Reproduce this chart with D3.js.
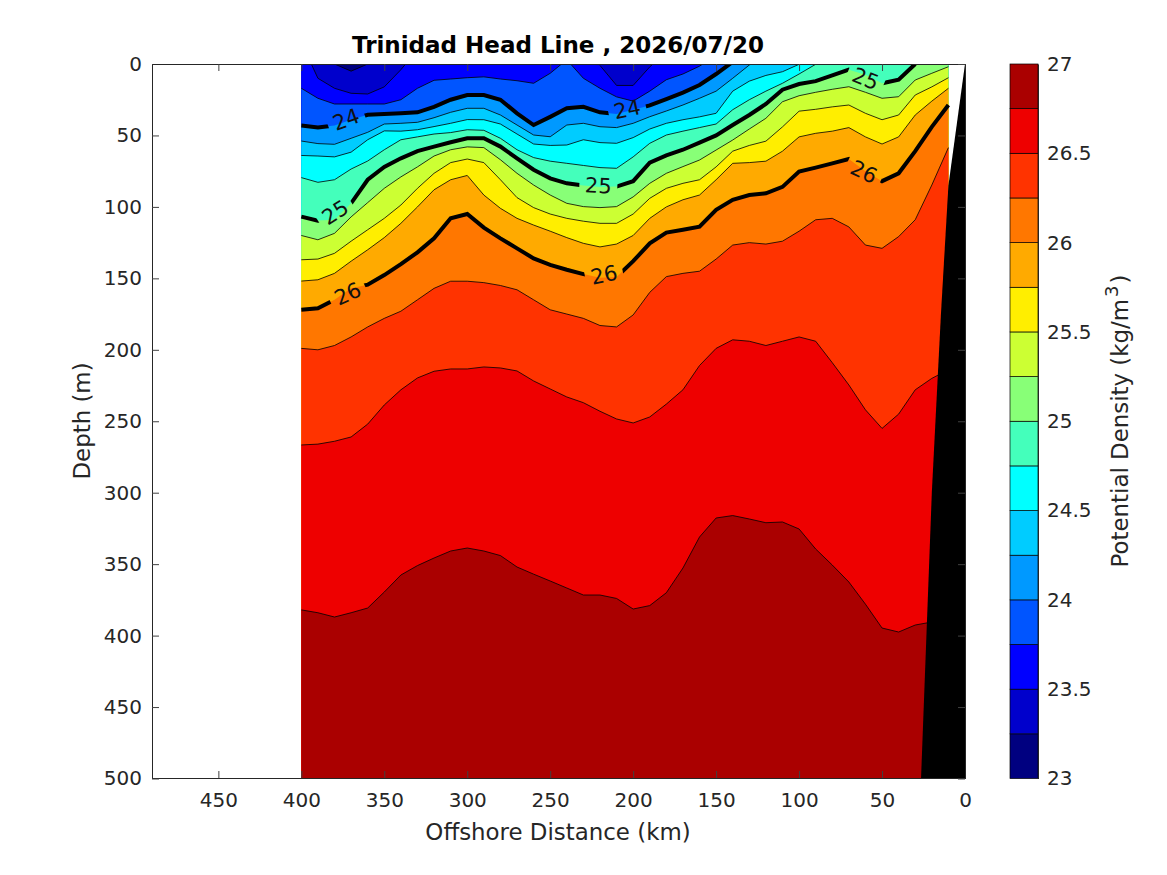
<!DOCTYPE html>
<html>
<head>
<meta charset="utf-8">
<script src="https://cdn.jsdelivr.net/npm/d3@7"></script>
<style>
  body { margin: 0; background: #fff; }
  text { font-family: "DejaVu Sans", sans-serif; fill: #262626; }
</style>
</head>
<body>
<div id="my_dataviz"></div>
<script>
// Station distances (km offshore), shared by every contour
const distances = [400,390,380,370,360,350,340,330,320,310,
                   300,290,280,270,260,250,240,230,220,210,
                   200,190,180,170,160,150,140,130,120,110,
                   100,90,80,70,60,50,40,30,20,10];

// Depth (m) of each density contour per station, null = contour not in the water column
const d2325 = [null,null,0,5,0,null,null,null,null,null,
  null,null,null,null,null,null,null,null,null,null,
  null,null,null,null,null,null,null,null,null,null,
  null,null,null,null,null,null,null,null,null,null];
const d2350 = [-15,10,17,20.5,21,16,4,-10,null,null,
  null,null,null,null,null,null,null,null,1,15,
  15,2,-8,null,null,null,null,null,null,null,
  null,null,null,null,null,null,null,null,null,null];
const d2375 = [17,24,28,28,28,28,25,17,11.4,10.5,
  9.6,9,10.5,11.7,13.5,6.5,-3,10,17,23,
  26,19,11,7,1.5,-6,null,null,null,null,
  null,null,null,null,null,null,null,null,null,null];
const d2400 = [43,44.5,43,39,35.5,35,34.5,33.8,30,25,
  21.7,21.7,25,34.5,42.7,37,31,30,33.8,35,
  32,29,24.5,20,14.7,7,-1.5,null,null,null,
  null,null,null,null,null,null,null,null,null,null];
const d2425 = [53.9,55.7,56.2,52,47.8,42,41.5,40.8,37.6,33.8,
  31,31,35.7,42.7,49.7,50.9,42.7,41.5,43.9,44.5,
  41.5,36.9,32.9,28.7,24,19,10,0.7,-4,null,
  null,null,null,null,null,null,null,null,null,null];
const d2450 = [64,64.4,65,61.7,53,46.8,47,46,43.8,41.5,
  38.9,39,42,49,56,57,56.7,53,55,55.5,
  51.5,45.5,41.5,39,37,34.5,19,12,8,5.4,
  0.2,-3,null,null,null,null,null,null,null,null];
const d2475 = [79.5,82.8,81,73.5,67.9,60,53,51,49,48,
  46,46.4,52,60,65.5,68,69.5,71,72.5,73,
  65,55.5,49.7,47,44.5,42,32,25,19,13.5,
  7,0.2,-5,null,null,null,null,null,null,null];
const d2500 = [106.8,109.6,109,97.5,81,72,66,61,57.8,54.8,
  52,52,57.8,66,74,80,83.5,85,86,85.8,
  82,69,64,60,55,50,42.7,35.7,28,18,
  14,12,8,4,7.5,13.5,11,0,null,null];
const d2525 = [120,123,118.5,107,97,87,79,72,64.4,60,
  58,58.5,67,76.5,84.7,91.7,97.5,99.8,100.5,99.8,
  93,83.5,76.5,71.8,67.2,60.2,53.2,45.5,38,26.4,
  22.2,19.8,17.7,15.9,19.8,24,22.9,11.2,6.5,1.9];
const d2550 = [137,136.5,132.5,124,116,108,98.7,87,76.5,69,
  66.5,69,81,93.5,100.5,105,108,110,111.5,111.5,
  105,94,87,83.5,81,72,61,57,54,44,
  33,31.7,30,28.7,34.5,39,35.7,21.7,16,9.6];
const d2575 = [151.9,151,146.5,138,130,121.5,111.5,100,88,81,
  78,91.7,101,108,112.7,117,121.5,125.5,128,126,
  120,108,100,95,91.7,81,69.5,69,68,61,
  51,48.5,47,44.5,51,56,51,35.7,26,17];
const d2600 = [172,171,165,157,154.4,147.7,140,131.8,122,108,
  105,114.5,122,129,136,140.6,144,147,149.5,149,
  138,125.5,118,116,113.8,102,95,91.7,90.5,86,
  75.3,72.5,69.5,66.5,75,82,76.5,61,44,28.7];
const d2625 = [199,200,197,191,184,178,173,165,157,152,
  152,153,155,158,165,172,175,178,183,184,
  175.6,159.8,148.8,146.5,145,136.5,126.7,125,126,124,
  117,109,108,114,126.7,129,120.8,109,84.7,58.5];
const d2650 = [266.6,266,264,261,252,238.6,228,219.7,215,213.4,
  213.4,212,212.7,214.8,221.8,227.4,233,237,243,248.4,
  251.2,247,238,228,211,199,193,194,197,194,
  191,194,209,224.6,242,255,245,228,220,214];
const d2675 = [382,384,387,384,380.7,369.5,357.6,351,345.7,340.8,
  338.7,340.8,344,352,357,361.8,366.7,371.6,371.6,374,
  381.4,379,370,352.7,331,317.7,316,318.4,321,320.5,
  325.4,339.4,350.6,362.5,378,394.7,397.5,392.6,390.5,390.5];

const levels = [23.25,23.5,23.75,24,24.25,24.5,24.75,25,25.25,25.5,25.75,26,26.25,26.5,26.75];
const contours = [d2325,d2350,d2375,d2400,d2425,d2450,d2475,d2500,d2525,d2550,d2575,d2600,d2625,d2650,d2675];
const boldLevels = [24,25,26];

// one colour per 0.25 band, 23 to 27
const bandEdges = [23,23.25,23.5,23.75,24,24.25,24.5,24.75,25,25.25,25.5,25.75,26,26.25,26.5,26.75,27];
const bandColors = ["#000080","#0000cc","#0000ff","#0055ff","#0099ff","#00ccff","#00ffff","#44ffbb",
                    "#88ff77","#ccff33","#ffee00","#ffaa00","#ff7700","#ff3300","#ee0000","#aa0000"];

// sea floor
const groundDist = [0,10,14.5,20,26.5];
const groundDepth = [0,85,175,300,500];

// inline contour labels
const labelText = ["24","24","25","25","25","26","26","26"];
const labelDist = [373,203.6,379.5,221,60,372,217.5,61];
const labelDepth = [39,32,104,85.4,10.5,161,147.7,75.6];
const labelAngle = [-20,-12,-32,3,22,-25,-12,25];

const xTicks = [450,400,350,300,250,200,150,100,50,0];
const yTicks = [0,50,100,150,200,250,300,350,400,450,500];
const cbTicks = [23,23.5,24,24.5,25,25.5,26,26.5,27];

const margin = {top: 64, left: 152, right: 202, bottom: 96.5},
    width = 1167 - margin.left - margin.right,
    height = 875 - margin.top - margin.bottom;

const svg = d3.select("#my_dataviz").append("svg")
    .attr("width", 1167)
    .attr("height", 875)
    .style("display", "block");

const x = d3.scaleLinear().domain([490, 0]).range([margin.left, margin.left + width]);
const y = d3.scaleLinear().domain([0, 500]).range([margin.top, margin.top + height]);
const cb = d3.scaleLinear().domain([23, 27]).range([margin.top + height, margin.top]);

const defs = svg.append("defs");
defs.append("clipPath").attr("id", "plotClip").append("rect")
    .attr("x", margin.left).attr("y", margin.top)
    .attr("width", width).attr("height", height);

// mask punches the holes for the contour labels
const mask = defs.append("mask").attr("id", "labelMask").attr("maskUnits", "userSpaceOnUse")
    .attr("x", 0).attr("y", 0).attr("width", 1167).attr("height", 875);
mask.append("rect").attr("width", 1167).attr("height", 875).attr("fill", "#fff");
labelText.forEach((t, i) => {
    mask.append("rect")
        .attr("x", -19).attr("y", -12).attr("width", 38).attr("height", 24)
        .attr("fill", "#000")
        .attr("transform", `translate(${x(labelDist[i])},${y(labelDepth[i])}) rotate(${labelAngle[i]})`);
});

const plot = svg.append("g").attr("clip-path", "url(#plotClip)");

// Filled bands, painted from light water down
plot.append("rect")
    .attr("x", x(400)).attr("y", y(0))
    .attr("width", x(10) - x(400)).attr("height", y(500) - y(0))
    .attr("fill", bandColors[0]);

const area = d3.area()
    .x((d, i) => x(distances[i]))
    .y0(y(500))
    .y1(d => y(d === null ? 0 : d));

plot.selectAll(".band")
    .data(contours)
    .enter().append("path")
    .attr("class", "band")
    .attr("fill", (d, i) => bandColors[i + 1])
    .attr("d", area);

// Contour lines
const line = d3.line()
    .defined(d => d !== null)
    .x((d, i) => x(distances[i]))
    .y(d => y(d));

plot.selectAll(".contour")
    .data(contours)
    .enter().append("path")
    .attr("class", "contour")
    .attr("fill", "none")
    .attr("stroke", "#000")
    .attr("stroke-width", (d, i) => boldLevels.includes(levels[i]) ? 4 : 0.8)
    .attr("mask", (d, i) => boldLevels.includes(levels[i]) ? "url(#labelMask)" : null)
    .attr("d", line);

plot.selectAll(".clabel")
    .data(labelText)
    .enter().append("text")
    .attr("class", "clabel")
    .attr("text-anchor", "middle")
    .attr("dominant-baseline", "central")
    .attr("font-size", 21)
    .style("fill", "#111")
    .attr("transform", (d, i) => `translate(${x(labelDist[i])},${y(labelDepth[i])}) rotate(${labelAngle[i]})`)
    .text(d => d);

// Sea floor
const ground = d3.line().x(d => x(d[0])).y(d => y(d[1]));
plot.append("path")
    .attr("fill", "#000")
    .attr("d", ground(groundDist.map((d, i) => [d, groundDepth[i]]).concat([[0, 500]])) + "Z");

// Axes, MATLAB style box with inward ticks
const xAxis = d3.axisBottom(x).tickValues(xTicks).tickSizeInner(-7).tickSizeOuter(0).tickPadding(14.5);
const yAxis = d3.axisLeft(y).tickValues(yTicks).tickSizeInner(-7).tickSizeOuter(0).tickPadding(10);
const xTop = d3.axisTop(x).tickValues(xTicks).tickSizeInner(-7).tickSizeOuter(0).tickFormat("");
const yRight = d3.axisRight(y).tickValues(yTicks).tickSizeInner(-7).tickSizeOuter(0).tickFormat("");

function styleAxis(g) {
    g.selectAll("path").attr("stroke", "#262626").attr("stroke-width", 1);
    g.selectAll("line").attr("stroke", "#404040").attr("stroke-width", 1);
    g.selectAll("text").attr("font-size", 20).attr("font-family", "DejaVu Sans").attr("fill", "#262626");
}
svg.append("g").attr("transform", `translate(0,${margin.top + height - 0.5})`).call(xAxis).call(styleAxis);
svg.append("g").attr("transform", `translate(${margin.left},0)`).call(yAxis).call(styleAxis);
svg.append("g").attr("transform", `translate(0,${margin.top})`).call(xTop).call(styleAxis);
svg.append("g").attr("transform", `translate(${margin.left + width},0)`).call(yRight).call(styleAxis);

svg.append("text")
    .attr("x", 558).attr("y", 53)
    .attr("text-anchor", "middle")
    .attr("font-size", 23)
    .attr("font-weight", "bold")
    .style("fill", "#000")
    .text("Trinidad Head Line , 2026/07/20");

svg.append("text")
    .attr("x", 558).attr("y", 840)
    .attr("text-anchor", "middle")
    .attr("font-size", 22.9)
    .text("Offshore Distance (km)");

svg.append("text")
    .attr("transform", "translate(90,421) rotate(-90)")
    .attr("text-anchor", "middle")
    .attr("font-size", 22.9)
    .text("Depth (m)");

// Colorbar
const cbX = 1010, cbW = 28;
svg.selectAll(".cbband")
    .data(bandColors)
    .enter().append("rect")
    .attr("class", "cbband")
    .attr("x", cbX)
    .attr("width", cbW)
    .attr("y", (d, i) => cb(bandEdges[i + 1]))
    .attr("height", (d, i) => cb(bandEdges[i]) - cb(bandEdges[i + 1]))
    .attr("fill", d => d)
    .attr("stroke", "#000")
    .attr("stroke-width", 0.7);

const cbAxis = d3.axisRight(cb).tickValues(cbTicks).tickSize(0).tickPadding(9).tickFormat(d3.format("~g"));
svg.append("g").attr("transform", `translate(${cbX + cbW},0)`).call(cbAxis)
    .call(g => g.select(".domain").attr("stroke", "#262626"))
    .call(styleAxis);

const cbLabel = svg.append("text")
    .attr("transform", "translate(1128,421) rotate(-90)")
    .attr("text-anchor", "middle")
    .attr("font-size", 22.9);
cbLabel.append("tspan").text("Potential Density (kg/m");
cbLabel.append("tspan").attr("font-size", 18).attr("dx", 2).attr("dy", -10).text("3");
cbLabel.append("tspan").attr("dx", 2).attr("dy", 10).text(")");
</script>
</body>
</html>
